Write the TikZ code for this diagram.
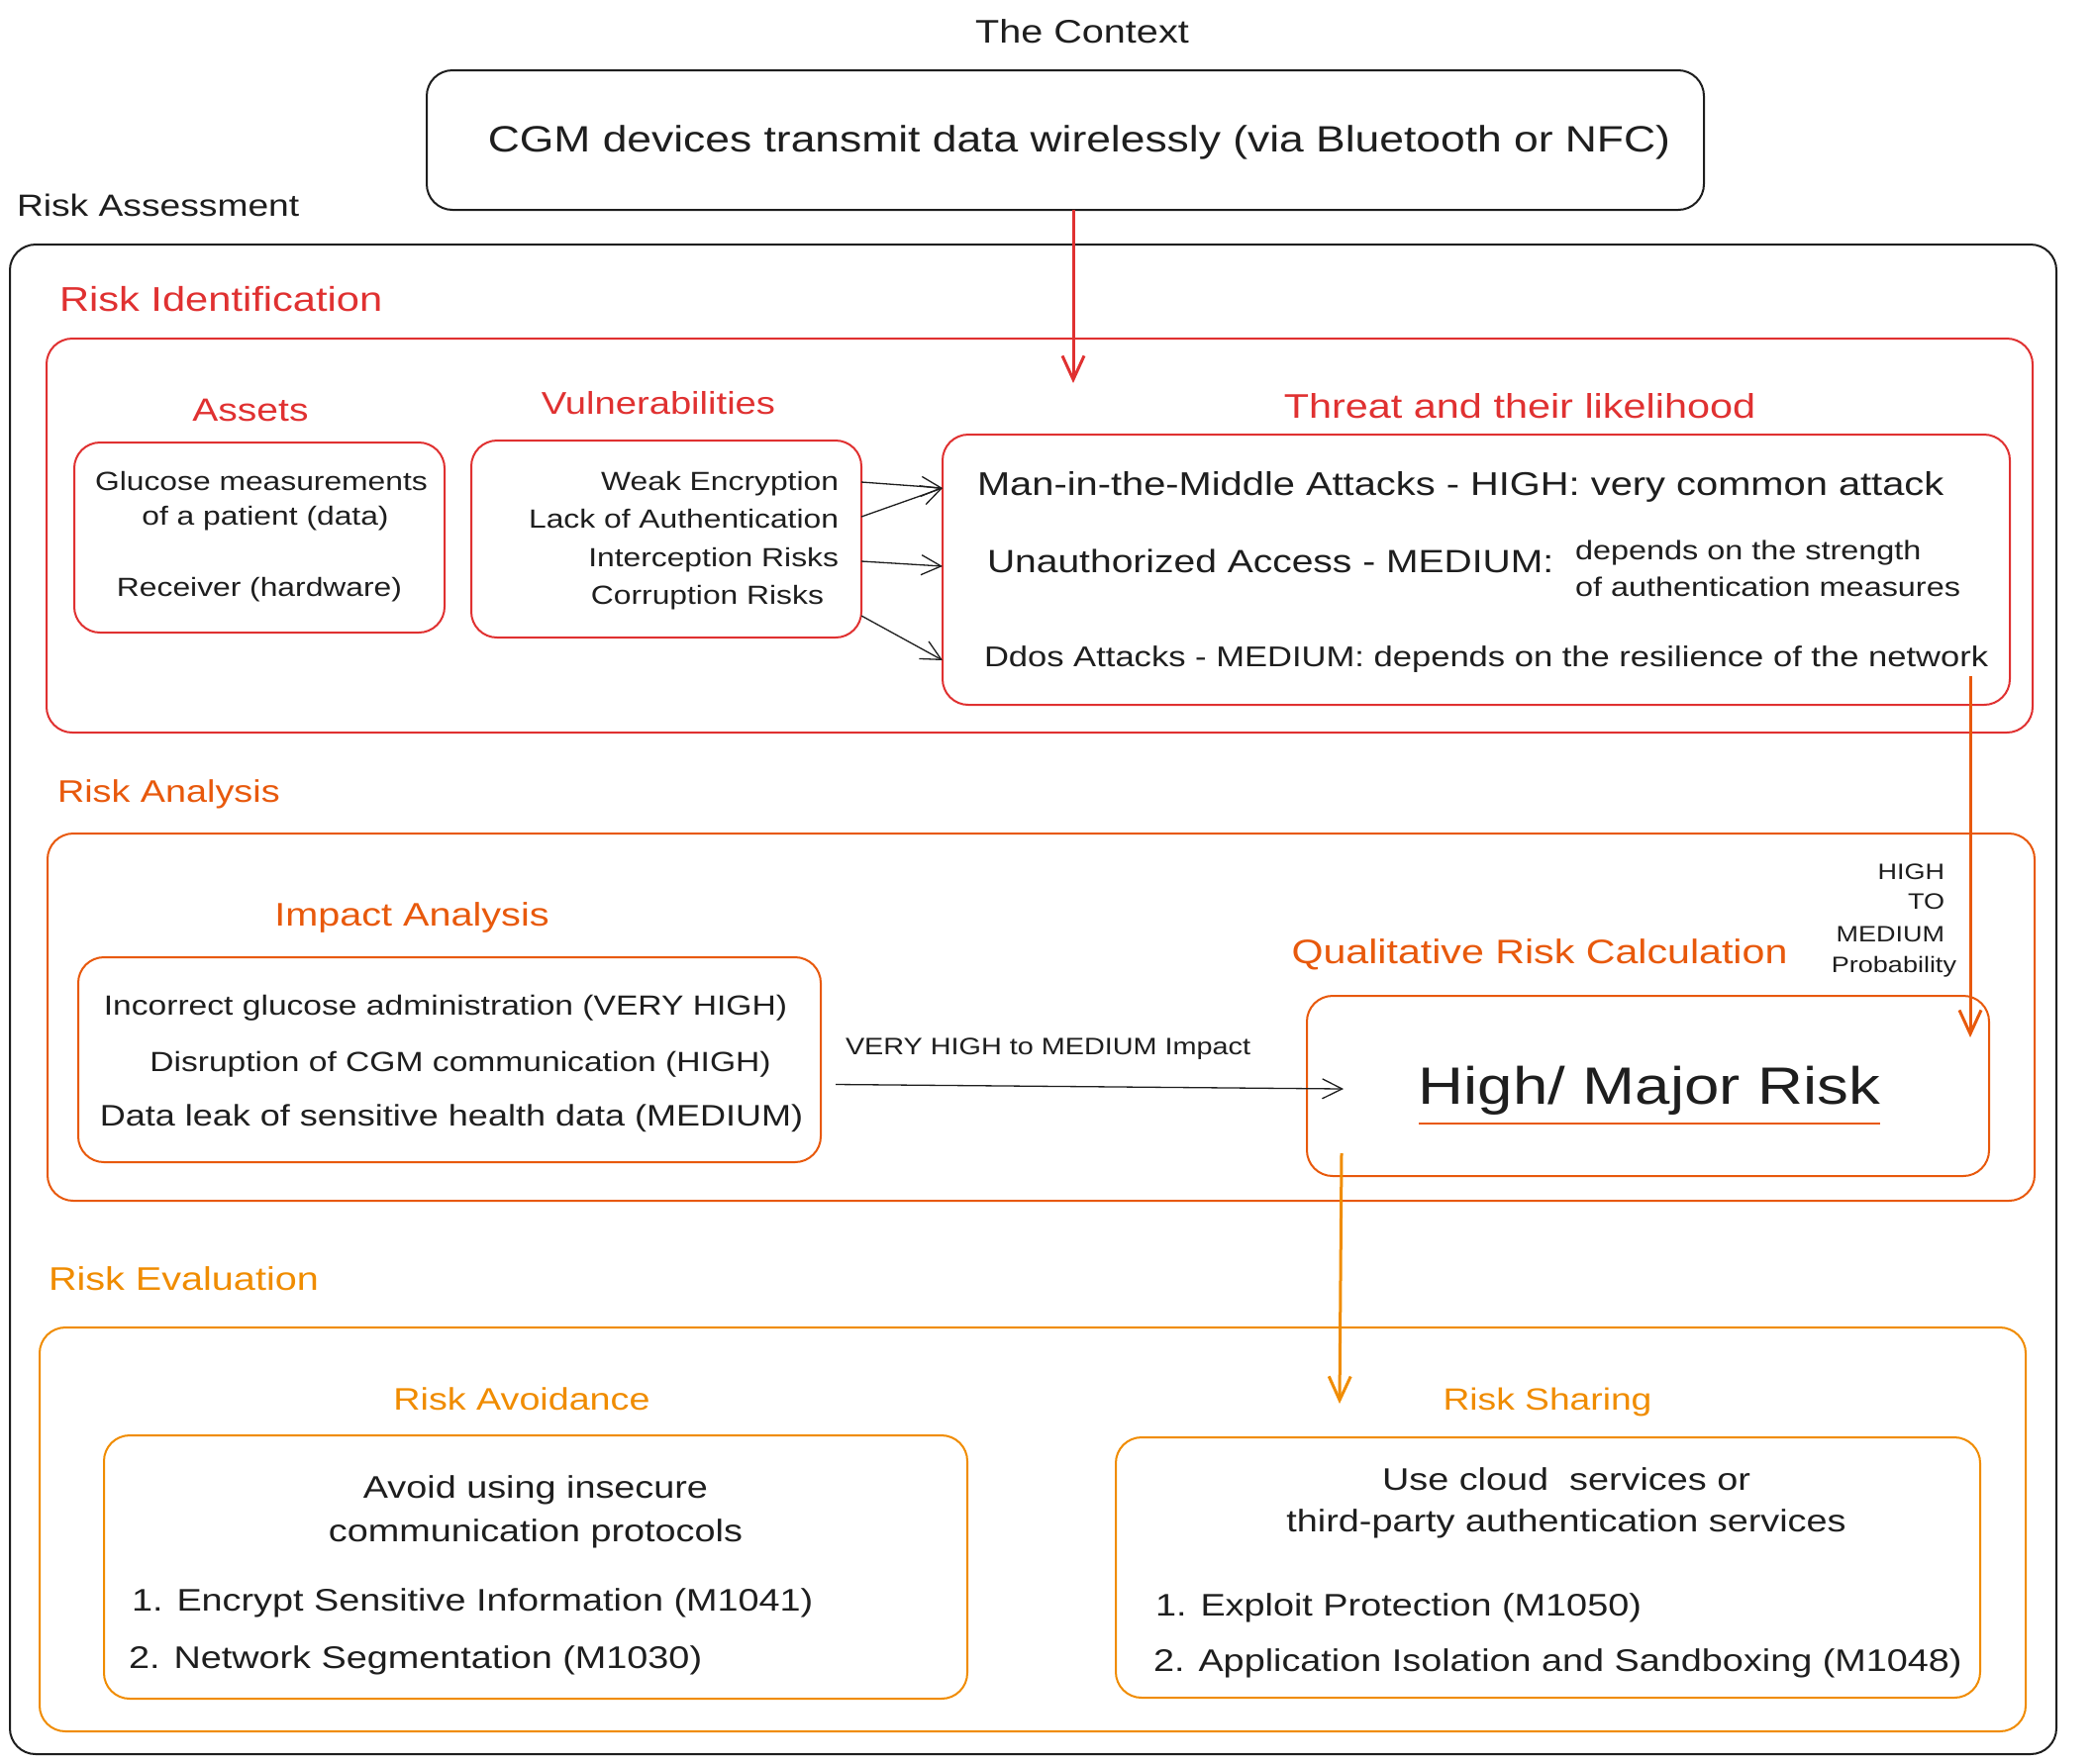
\documentclass[tikz,border=0pt]{standalone}
\usepackage{fontspec}
\setmainfont{Liberation Sans}[FakeStretch=1.2]
\usetikzlibrary{arrows.meta}
\definecolor{ink}{HTML}{1E1E1E}
\definecolor{cred}{HTML}{E03131}
\definecolor{corange}{HTML}{E8590C}
\definecolor{camber}{HTML}{F08C00}
\newcommand{\fsz}[1]{\fontsize{#1pt}{#1pt}\selectfont}

\begin{document}
\begin{tikzpicture}[x=1pt,y=-1pt,
  box/.style={draw, rounded corners=26pt, line width=2pt, inner sep=0pt, outer sep=0pt, anchor=north west},
  lbl/.style={inner sep=0pt, outer sep=0pt, anchor=base, text=ink},
  lblw/.style={lbl, anchor=base west},
  lble/.style={lbl, anchor=base east},
  body/.style={font=\fsz{26.5}},
  barb/.style={-{Straight Barb[length=24pt,width=22pt]}},
  thinbarb/.style={-{Straight Barb[length=20pt,width=20pt]}, line width=1.3pt, draw=ink},
]
\useasboundingbox[fill=white] (0,0) rectangle (2114,1781);

% ---------- context ----------
\node[lbl, font=\fsz{33}] (ctxtitle) at (1093,43) {The Context};
\node[box, draw=ink, minimum width=1290pt, minimum height=141pt] (ctx) at (431,71) {};
\node[lbl, font=\fsz{37}] (ctxtext) at (1090,153) {CGM devices transmit data wirelessly (via Bluetooth or NFC)};

% ---------- risk assessment frame ----------
\node[lblw, font=\fsz{31}] (ratitle) at (17,218) {Risk Assessment};
\node[box, draw=ink, minimum width=2067pt, minimum height=1525pt] (outer) at (10,247) {};

% ---------- risk identification ----------
\node[lblw, font=\fsz{34.7}, text=cred] (idtitle) at (60,314) {Risk Identification};
\node[box, draw=cred, minimum width=2006pt, minimum height=398pt] (ident) at (47,342) {};

\node[lbl, font=\fsz{32.5}, text=cred] (assetstitle) at (253,425) {Assets};
\node[box, draw=cred, minimum width=374pt, minimum height=192pt] (assets) at (75,447) {};
\node[lbl, body] (a1) at (264,495) {Glucose measurements};
\node[lbl, body] (a2) at (268,530) {of a patient (data)};
\node[lbl, body] (a3) at (262,602) {Receiver (hardware)};

\node[lbl, font=\fsz{31.8}, text=cred] (vulntitle) at (665,418) {Vulnerabilities};
\node[box, draw=cred, minimum width=394pt, minimum height=199pt] (vuln) at (476,445) {};
\node[lble, body] (v1) at (847,495) {Weak Encryption};
\node[lble, body] (v2) at (847,533) {Lack of Authentication};
\node[lble, body] (v3) at (847,572) {Interception Risks};
\node[lble, body] (v4) at (832,610) {Corruption Risks};

\node[lbl, font=\fsz{34.5}, text=cred] (threattitle) at (1535,422) {Threat and their likelihood};
\node[box, draw=cred, minimum width=1078pt, minimum height=273pt] (threat) at (952,439) {};
\node[lblw, font=\fsz{33.2}] (t1) at (987,500) {Man-in-the-Middle Attacks - HIGH: very common attack};
\node[lblw, font=\fsz{32.5}] (t2) at (997,578) {Unauthorized Access - MEDIUM:};
\node[lblw, font=\fsz{27}] (t2a) at (1591,565) {depends on the strength};
\node[lblw, font=\fsz{27}] (t2b) at (1591,602) {of authentication measures};
\node[lblw, font=\fsz{28.8}] (t3) at (994,673) {Ddos Attacks - MEDIUM: depends on the resilience of the network};

% vulnerabilities lead to threats
\draw[thinbarb] ([yshift=-42pt]vuln.north east) -- ([yshift=-54pt]threat.north west);
\draw[thinbarb] ([yshift=-77pt]vuln.north east) -- ([yshift=-54pt]threat.north west);
\draw[thinbarb] ([yshift=-122pt]vuln.north east) -- ([yshift=-133pt]threat.north west);
\draw[thinbarb] ([yshift=-177pt]vuln.north east) -- ([yshift=-228pt]threat.north west);

% context feeds the identification
\coordinate (redtip) at (1084,387);
\draw[barb, draw=cred, line width=3pt] (ctx.south -| redtip) -- (redtip);

% ---------- risk analysis ----------
\node[lblw, font=\fsz{31.5}, text=corange] (antitle) at (58,810) {Risk Analysis};
\node[box, draw=corange, minimum width=2007pt, minimum height=371pt] (analysis) at (48,842) {};

\node[lbl, font=\fsz{33}, text=corange] (imptitle) at (416,935) {Impact Analysis};
\node[box, draw=corange, minimum width=750pt, minimum height=207pt] (impact) at (79,967) {};
\node[lbl, font=\fsz{28}] (i1) at (450,1025) {Incorrect glucose administration (VERY HIGH)};
\node[lbl, font=\fsz{28}] (i2) at (465,1082) {Disruption of CGM communication (HIGH)};
\node[lbl, font=\fsz{30}] (i3) at (456,1137) {Data leak of sensitive health data (MEDIUM)};

\node[lbl, font=\fsz{34.3}, text=corange] (qtitle) at (1555,973) {Qualitative Risk Calculation};
\node[lble, font=\fsz{22.5}] (p1) at (1964,888) {HIGH};
\node[lble, font=\fsz{22.5}] (p2) at (1964,918) {TO};
\node[lble, font=\fsz{22.5}] (p3) at (1964,951) {MEDIUM};
\node[lble, font=\fsz{22.5}] (p4) at (1976,982) {Probability};

\node[box, draw=corange, minimum width=689pt, minimum height=182pt] (risk) at (1320,1006) {};
\node[lbl, font=\fsz{53}] (hm) at (1666,1115) {High/ Major Risk};
\draw[corange, line width=2pt] ([yshift=-20pt]hm.base west) -- ([yshift=-20pt]hm.base east);

% impact to risk level
\node[lblw, font=\fsz{24}] (implbl) at (854,1065) {VERY HIGH to MEDIUM Impact};
\draw[thinbarb] ([xshift=15pt,yshift=-25pt]impact.east) -- ([xshift=37pt,yshift=-3pt]risk.west);

% likelihood to risk level
\coordinate (orstart) at ([xshift=-40pt,yshift=29pt]threat.south east);
\coordinate (ortip) at ([xshift=-20pt,yshift=-42pt]risk.north east);
\draw[barb, draw=corange, line width=3pt] (orstart) -- (orstart |- ortip);

% ---------- risk evaluation ----------
\node[lblw, font=\fsz{33}, text=camber] (evtitle) at (49,1303) {Risk Evaluation};
\node[box, draw=camber, minimum width=2006pt, minimum height=408pt] (eval) at (40,1341) {};

\node[lbl, font=\fsz{31.4}, text=camber] (avtitle) at (527,1424) {Risk Avoidance};
\node[box, draw=camber, minimum width=872pt, minimum height=266pt] (avoid) at (105,1450) {};
\node[lbl, font=\fsz{31.5}] (av1) at (541,1513) {Avoid using insecure};
\node[lbl, font=\fsz{31.5}] (av2) at (541,1557) {communication protocols};
\node[lblw, font=\fsz{31.5}] (av3) at (133,1627) {1. Encrypt Sensitive Information (M1041)};
\node[lblw, font=\fsz{31.5}] (av4) at (130,1685) {2. Network Segmentation (M1030)};

\node[lbl, font=\fsz{31}, text=camber] (shtitle) at (1563,1424) {Risk Sharing};
\node[box, draw=camber, minimum width=873pt, minimum height=263pt] (share) at (1127,1452) {};
\node[lbl, font=\fsz{31.5}] (sh1) at (1582,1505) {Use cloud \ services or};
\node[lbl, font=\fsz{31.5}] (sh2) at (1582,1547) {third-party authentication services};
\node[lblw, font=\fsz{31.5}] (sh3) at (1167,1632) {1. Exploit Protection (M1050)};
\node[lblw, font=\fsz{31.5}] (sh4) at (1165,1688) {2. Application Isolation and Sandboxing (M1048)};

% risk level leads to evaluation
\coordinate (amtip) at (1353,1418);
\draw[barb, draw=camber, line width=3pt] ([xshift=35pt,yshift=23pt]risk.south west) -- (amtip);
\end{tikzpicture}
\end{document}
